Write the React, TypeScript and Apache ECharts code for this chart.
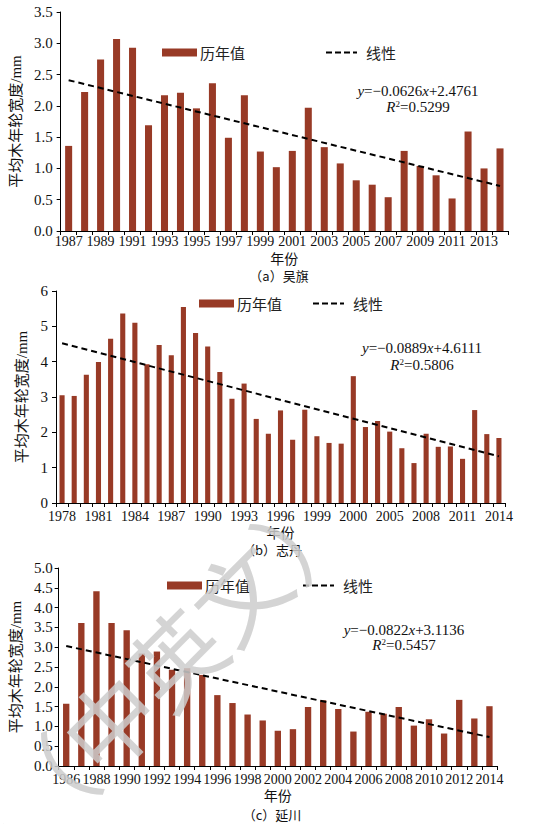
import React, { useEffect, useRef } from 'react';
import * as echarts from 'echarts';

// ---------- Panel (a) 吴旗 ----------
const yearsA = ['1987','1988','1989','1990','1991','1992','1993','1994','1995','1996','1997','1998','1999','2000','2001','2002','2003','2004','2005','2006','2007','2008','2009','2010','2011','2012','2013','2014'];
const valuesA = [1.36,2.22,2.74,3.07,2.93,1.69,2.17,2.21,1.96,2.36,1.49,2.17,1.27,1.02,1.28,1.97,1.34,1.08,0.81,0.74,0.54,1.28,1.04,0.89,0.52,1.59,1.00,1.32];
const trendA = [2.41, 0.72];

// ---------- Panel (b) 志丹 ----------
const yearsB = ['1978','1979','1980','1981','1982','1983','1984','1985','1986','1987','1988','1989','1990','1991','1992','1993','1994','1995','1996','1997','1998','1999','2000','2001','2002','2003','2004','2005','2006','2007','2008','2009','2010','2011','2012','2013','2014'];
const valuesB = [3.05,3.03,3.63,3.99,4.65,5.36,5.10,3.93,4.47,4.18,5.55,4.81,4.43,3.71,2.95,3.38,2.38,1.96,2.62,1.79,2.64,1.89,1.70,1.68,3.59,2.15,2.32,2.02,1.55,1.13,1.96,1.59,1.60,1.25,2.63,1.95,1.84];
const tickLabelsB = ['1978','1981','1984','1987','1990','1993','1996','1999','2000','2005','2008','2011','2014'];
const trendB = [4.52, 1.32];

// ---------- Panel (c) 延川 ----------
const yearsC = ['1986','1987','1988','1989','1990','1991','1992','1993','1994','1995','1996','1997','1998','1999','2000','2001','2002','2003','2004','2005','2006','2007','2008','2009','2010','2011','2012','2013','2014'];
const valuesC = [1.57,3.61,4.41,3.61,3.43,2.84,2.89,2.43,2.47,2.30,1.79,1.59,1.30,1.15,0.89,0.93,1.49,1.66,1.44,0.87,1.37,1.32,1.49,1.02,1.18,0.82,1.67,1.20,1.51];
const trendC = [3.03, 0.73];

const equations = [
  { eq: '{i|y}=\u22120.0626{i|x}+2.4761', r2: '{i|R}{s|2}=0.5299' },
  { eq: '{i|y}=\u22120.0889{i|x}+4.6111', r2: '{i|R}{s|2}=0.5806' },
  { eq: '{i|y}=\u22120.0822{i|x}+3.1136', r2: '{i|R}{s|2}=0.5457' },
];
const captions = ['\uff08a\uff09吴旗', '\uff08b\uff09志丹', '\uff08c\uff09延川'];

const BAR = '#983a26';
const SERIF = "'Liberation Serif', 'Noto Sans CJK SC', serif";
const CJK = "'Noto Sans CJK SC', sans-serif";
const BAR_NAME = '历年值';
const LINE_NAME = '线性';
const DASH_ICON = 'path://M0,0h6v2h-6zM9,0h6v2h-6zM18,0h6v2h-6zM27,0h4v2h-4z';

function trendData(n: number, t: number[]) {
  const d: (number | null)[] = [];
  for (let i = 0; i < n; i++) d.push(i === 0 ? t[0] : i === n - 1 ? t[1] : null);
  return d;
}

export default function App() {
  const ref = useRef<HTMLDivElement>(null);
  useEffect(() => {
    const chart = echarts.init(ref.current!, null, { renderer: 'svg' });

    const grids = [
      { left: 60, right: 33, top: 12, height: 219 },
      { left: 56, right: 36, top: 291, height: 212 },
      { left: 55, right: 44, top: 568, height: 198 },
    ];

    const cats = [yearsA, yearsB, yearsC];
    const vals = [valuesA, valuesB, valuesC];
    const trends = [trendA, trendB, trendC];
    const yMax = [3.5, 6, 5];
    const yInt = [0.5, 1, 0.5];
    const yDec = [1, 0, 1];
    const yNameGap = [33, 26, 32];
    const yLabelMargin = [8, 8, 6];
    const xLabelMargin = [3, 6, 6];
    const xNameGap = [20, 22, 22];
    const barW = ['44%', '42%', '42%'];

    const xAxis = cats.map((c, i) => ({
      gridIndex: i,
      type: 'category',
      data: c,
      boundaryGap: true,
      axisLine: { show: true, lineStyle: { color: '#000', width: 1 } },
      axisTick: { show: true, interval: 0, length: 4, lineStyle: { color: '#000' } },
      axisLabel: {
        interval: 0,
        margin: xLabelMargin[i],
        fontFamily: SERIF,
        fontSize: 14,
        color: '#111',
        formatter: (v: string, idx: number) => {
          if (i === 1) return idx % 3 === 0 ? tickLabelsB[idx / 3] : '';
          return idx % 2 === 0 ? v : '';
        },
      },
      name: '年份',
      nameLocation: 'middle',
      nameGap: xNameGap[i],
      nameTextStyle: { fontFamily: CJK, fontSize: 14, color: '#111' },
    }));

    const yAxis = cats.map((_, i) => ({
      gridIndex: i,
      type: 'value',
      min: 0,
      max: yMax[i],
      interval: yInt[i],
      axisLine: { show: true, lineStyle: { color: '#000', width: 1 } },
      axisTick: { show: true, length: 4, lineStyle: { color: '#000' } },
      splitLine: { show: false },
      axisLabel: {
        margin: yLabelMargin[i],
        fontFamily: SERIF,
        fontSize: 15,
        color: '#111',
        formatter: (v: number) => v.toFixed(yDec[i]),
      },
      name: '平均木年轮宽度/mm',
      nameLocation: 'middle',
      nameGap: yNameGap[i],
      nameRotate: 90,
      nameTextStyle: { fontFamily: SERIF, fontSize: 15, color: '#111' },
    }));

    const series: any[] = [];
    cats.forEach((c, i) => {
      series.push({
        type: 'bar',
        name: BAR_NAME,
        xAxisIndex: i,
        yAxisIndex: i,
        data: vals[i],
        barWidth: barW[i],
        itemStyle: { color: BAR },
      });
      series.push({
        type: 'line',
        name: LINE_NAME,
        xAxisIndex: i,
        yAxisIndex: i,
        data: trendData(c.length, trends[i]),
        connectNulls: true,
        symbol: 'none',
        color: '#000',
        itemStyle: { color: '#000' },
        lineStyle: { color: '#000', width: 2, type: [6, 4] },
        z: 3,
      });
    });

    const legendPos = [
      { bar: [162, 55], line: [326, 55] },
      { bar: [199, 306], line: [313, 306] },
      { bar: [167, 588], line: [303, 588] },
    ];
    const legend: any[] = [];
    legendPos.forEach((p) => {
      legend.push({
        data: [{ name: BAR_NAME, icon: 'rect' }],
        left: p.bar[0],
        top: p.bar[1] - 10,
        padding: 0,
        itemWidth: 35,
        itemHeight: 8,
        selectedMode: false,
        textStyle: { fontFamily: CJK, fontSize: 15, color: '#222', padding: [0, 0, 0, -2] },
      });
      legend.push({
        data: [{ name: LINE_NAME, icon: DASH_ICON }],
        left: p.line[0],
        top: p.line[1] - 10,
        padding: 0,
        itemWidth: 31,
        itemHeight: 2,
        selectedMode: false,
        itemStyle: { color: '#000' },
        textStyle: { fontFamily: CJK, fontSize: 15, color: '#222', padding: [0, 0, 0, 4] },
      });
    });

    const eqPos = [
      { x: 418, y1: 91, y2: 107 },
      { x: 422, y1: 348, y2: 365 },
      { x: 404, y1: 630, y2: 645 },
    ];
    const rich = {
      i: { fontFamily: SERIF, fontSize: 15, fontStyle: 'italic', fill: '#111' },
      s: { fontFamily: SERIF, fontSize: 9, verticalAlign: 'top', fill: '#111' },
    };
    const graphic: any[] = [];
    eqPos.forEach((p, i) => {
      graphic.push({
        type: 'text', x: p.x, y: p.y1,
        style: { text: equations[i].eq, rich, font: `15px ${SERIF}`, fill: '#111', align: 'center', verticalAlign: 'middle' },
      });
      graphic.push({
        type: 'text', x: p.x, y: p.y2,
        style: { text: equations[i].r2, rich, font: `15px ${SERIF}`, fill: '#111', align: 'center', verticalAlign: 'middle' },
      });
    });
    const capPos = [[279, 275], [272, 549], [272, 814]];
    capPos.forEach((p, i) => {
      graphic.push({
        type: 'text', x: p[0], y: p[1],
        style: { text: captions[i], font: `13px ${CJK}`, fill: '#111', align: 'center', verticalAlign: 'middle' },
      });
    });
    // watermark
    graphic.push({
      type: 'text', x: 140, y: 688, rotation: Math.PI / 4, z: 100,
      style: { text: '技\uff08中英文\uff09', font: `92px ${CJK}`, fill: 'rgba(205,205,205,0.85)', align: 'center', verticalAlign: 'middle' },
    });

    chart.setOption({
      animation: false,
      backgroundColor: '#fff',
      grid: grids,
      xAxis,
      yAxis,
      series,
      legend,
      graphic,
    });
    return () => chart.dispose();
  }, []);
  return <div ref={ref} style={{ position: 'absolute', left: 0, top: 0, width: 541, height: 824 }} />;
}
